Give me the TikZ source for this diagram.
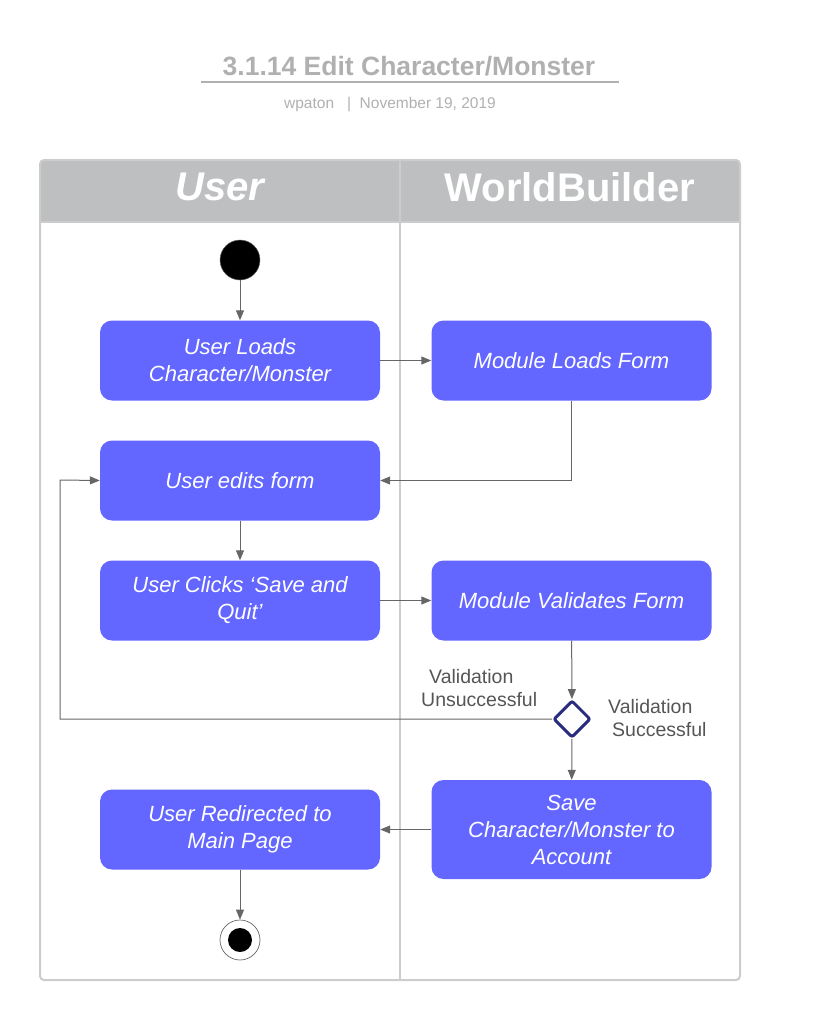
\documentclass[tikz,border=0pt]{standalone}
\usepackage{fontspec}
\setmainfont{Liberation Sans}
\usetikzlibrary{arrows.meta,shapes.geometric}
\definecolor{boxblue}{RGB}{99,102,255}
\definecolor{hdrgray}{RGB}{190,191,193}
\definecolor{framegray}{RGB}{204,204,204}
\definecolor{linegray}{RGB}{102,102,102}
\definecolor{navy}{RGB}{42,45,125}
\definecolor{titlegray}{RGB}{176,176,176}
\definecolor{labelgray}{RGB}{85,85,85}
\begin{document}
\begin{tikzpicture}[x=1pt,y=-1pt,
  act/.style={fill=boxblue, rounded corners=12pt, minimum width=280pt, minimum height=80pt,
    text=white, font=\fontsize{22}{27}\selectfont\itshape, align=center, inner sep=0pt},
  conn/.style={draw=linegray, line width=1pt, -{Triangle[length=10pt,width=8pt]}},
  lbl/.style={text=labelgray, font=\fontsize{19.5}{23.5}\selectfont, align=left, anchor=west, inner sep=0pt},
  hdr/.style={text=white, font=\fontsize{40}{44}\selectfont\bfseries}]
\useasboundingbox (0,0) rectangle (820,1020);
% title
\node[text=titlegray, font=\fontsize{26.5}{30}\selectfont\bfseries] (title) at (409,66) {3.1.14 Edit Character/Monster};
\draw[titlegray, line width=2pt] (201,82) -- (619,82);
\node[text=titlegray, font=\fontsize{15.5}{18}\selectfont] (sub) at (390,104.5) {wpaton\ \ \ |\ \ November 19, 2019};
% swimlanes
\begin{scope}
  \clip[rounded corners=4pt] (40,160) rectangle (740,980);
  \fill[hdrgray] (40,160) rectangle (740,222);
\end{scope}
\draw[framegray, line width=1.5pt] (40,222) -- (740,222);
\draw[framegray, line width=1.5pt] (400,160) -- (400,980);
\draw[framegray, line width=2pt, rounded corners=4pt] (40,160) rectangle (740,980);
\node[hdr, font=\fontsize{40}{44}\selectfont\bfseries\itshape] (hu) at (220,187) {User};
\node[hdr] (hw) at (570,187) {WorldBuilder};
% nodes
\node[circle, fill=black, draw=linegray, line width=0.5pt, minimum size=40pt, inner sep=0pt] (start) at (240,260) {};
\node[act] (b1) at (240,360.5) {User Loads\\Character/Monster};
\node[act] (b2) at (571.5,360.5) {Module Loads Form};
\node[act] (b3) at (240,480.5) {User edits form};
\node[act] (b4) at (240,600.5) {User Clicks ‘Save and\\Quit’};
\node[act] (b5) at (571.5,600.5) {Module Validates Form};
\node[diamond, aspect=1, draw=navy, fill=white, line width=3pt, rounded corners=2pt, minimum size=37pt, inner sep=0pt] (dia) at (572,719) {};
\node[act, minimum height=99pt] (b6) at (571.5,829.5) {Save\\Character/Monster to\\Account};
\node[act] (b7) at (240,829.5) {User Redirected to\\Main Page};
\node[circle, draw=linegray, line width=0.7pt, minimum size=40pt, inner sep=0pt] (stop) at (240,940) {};
\node[circle, fill=black, minimum size=24pt, inner sep=0pt] (stopin) at (240,940) {};
% labels
\node[lbl] (lu) at (421,688) {\hspace*{8pt}Validation\\Unsuccessful};
\node[lbl] (ls) at (608,718) {Validation\\\hspace*{4pt}Successful};
% connectors
\coordinate (lp) at (60,480);
\draw[conn] (start) -- (b1);
\draw[conn] (b1) -- (b2);
\draw[conn] (b2.south) |- (b3.east);
\draw[conn] (b3) -- (b4);
\draw[conn] (b4) -- (b5);
\draw[conn] (b5) -- (dia);
\draw[conn] (dia.west) -| (lp) -- (b3.west);
\draw[conn] (dia) -- (b6);
\draw[conn] (b6.west) -- (b7.east);
\draw[conn] (b7) -- (stop);
\end{tikzpicture}
\end{document}
